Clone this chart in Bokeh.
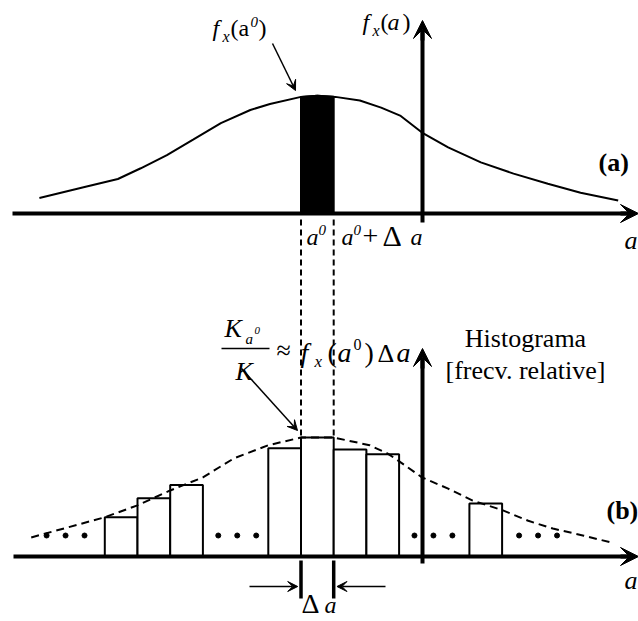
import numpy as np
from bokeh.plotting import figure
from bokeh.models import Range1d, Arrow, VeeHead, Label
from bokeh.embed import file_html
from bokeh.resources import INLINE

# ---------------------------------------------------------------------------
# Data (a measured in units of the bin width, origin at a0; densities scaled
# so that the histogram bar at a0 has height 1)
# ---------------------------------------------------------------------------
# probability density f_x(a), panel (a)
pdf_a = [-8.0, -6.65, -5.6, -4.9, -4.1, -3.3, -2.45, -1.55, -0.95, 0.0, 0.5,
         1.05, 1.8, 2.45, 3.05, 3.7, 4.5, 5.5, 6.5, 7.55, 8.55, 9.7]
pdf_f = [0.13, 0.22, 0.29, 0.38, 0.49, 0.62, 0.76, 0.87, 0.92, 0.98, 0.99,
         0.98, 0.95, 0.89, 0.82, 0.68, 0.555, 0.43, 0.335, 0.25, 0.175, 0.11]

# dashed envelope drawn over the histogram, panel (b)
env_a = [-8.25, -6.0, -5.0, -4.0, -3.0, -2.05, -1.0, 0.0, 1.0, 2.1, 2.65,
         2.95, 3.7, 4.5, 5.25, 6.15, 6.95, 7.7, 8.65, 9.45]
env_f = [0.16, 0.33, 0.43, 0.555, 0.665, 0.825, 0.935, 1.0, 1.0, 0.935, 0.865,
         0.81, 0.665, 0.57, 0.47, 0.39, 0.30, 0.235, 0.175, 0.12]

# histogram bins (left edge) and relative frequencies
bin_left = [-6.0, -5.0, -4.0, -1.0, 0.0, 1.0, 2.0, 5.15]
rel_freq = [0.33, 0.49, 0.60, 0.91, 1.0, 0.90, 0.86, 0.445]

bin_width = 1.0          # Delta a
a0 = 0.0                 # the highlighted bin starts at a0

# ---------------------------------------------------------------------------
# Layout
# ---------------------------------------------------------------------------
W, H = 638, 621
PX_A0 = 300.5            # canvas column of a0
PX_PER_A = 32.7          # canvas pixels per bin width
BASE_B = 556             # canvas row of the histogram baseline
PX_PER_F = 119           # canvas pixels per unit height
SERIF = "Liberation Serif"


def ax(px):
    return (px - PX_A0) / PX_PER_A


def ay(py):
    return (BASE_B - py) / PX_PER_F


LIFT_A = ay(213)         # baseline of panel (a)
V_AXIS = ax(422)         # position of the vertical axes
ELLIPSIS = [-7.2, -1.95, 4.05, 7.25]
DOT_GAP = 0.58

p = figure(width=W, height=H, x_range=Range1d(ax(0), ax(W)),
           y_range=Range1d(ay(H), ay(0)), output_backend="svg",
           toolbar_location=None, min_border=0,
           x_axis_type=None, y_axis_type=None)
p.outline_line_color = None
p.background_fill_color = "white"
p.border_fill_color = "white"


def arrow(x0, y0, x1, y1, lw, head):
    p.add_layout(Arrow(end=VeeHead(size=head, fill_color="black",
                                   line_color="black", line_width=1),
                       x_start=x0, y_start=y0, x_end=x1, y_end=y1,
                       line_width=lw, line_color="black"))


def txt(px, base, s, size, style="normal", align="left"):
    """Place a text run whose baseline sits on canvas row `base`."""
    mid = base - 0.34 * size
    p.add_layout(Label(x=ax(px), y=ay(mid), text=s, text_font=SERIF,
                       text_font_size=f"{size}px", text_font_style=style,
                       text_align=align, text_baseline="middle",
                       text_color="black"))


# ---------------------------- panel (a) ------------------------------------
pdf_y = [LIFT_A + f for f in pdf_f]
# shaded strip [a0, a0 + da] under the density
xs_in = [a for a in pdf_a if a0 < a < a0 + bin_width]
strip_x = [a0] + xs_in + [a0 + bin_width]
strip_top = list(np.interp(strip_x, pdf_a, pdf_f))
p.patch(strip_x + strip_x[::-1],
        [LIFT_A + f for f in strip_top] + [LIFT_A] * len(strip_x),
        fill_color="black", line_color="black", line_width=2)
p.line(pdf_a, pdf_y, line_color="black", line_width=2)

p.segment(ax(12), LIFT_A, ax(630), LIFT_A, line_color="black", line_width=4)
arrow(ax(620), LIFT_A, ax(638), LIFT_A, 4, 18)
p.segment(V_AXIS, ay(222), V_AXIS, ay(30), line_color="black", line_width=4)
arrow(V_AXIS, ay(40), V_AXIS, ay(20), 4, 18)

# callout to f_x(a0)
arrow(ax(272), ay(43), ax(295), ay(90), 1.5, 10)

# dashed guides from a0 and a0 + da down to the histogram
for gx in (a0, a0 + bin_width):
    p.segment(gx, ay(219), gx, rel_freq[bin_left.index(a0)],
              line_color="black", line_width=2, line_dash="6 4")

# ---------------------------- panel (b) ------------------------------------
p.quad(left=bin_left, right=[b + bin_width for b in bin_left],
       bottom=0, top=rel_freq, fill_color="white",
       line_color="black", line_width=2)
p.line(env_a, env_f, line_color="black", line_width=2, line_dash="8 5")

for c in ELLIPSIS:
    p.scatter([c - DOT_GAP, c, c + DOT_GAP], [ay(535)] * 3, size=5,
              marker="circle", fill_color="black", line_color="black")

p.segment(ax(13), 0, ax(630), 0, line_color="black", line_width=4)
arrow(ax(620), 0, ax(638), 0, 4, 18)
p.segment(V_AXIS, ay(563), V_AXIS, ay(358), line_color="black", line_width=4)
arrow(V_AXIS, ay(368), V_AXIS, ay(348), 4, 18)

# bin width marker
for gx in (a0, a0 + bin_width):
    p.segment(gx, ay(560), gx, ay(598), line_color="black", line_width=3.5)
arrow(ax(249), ay(586), a0 - 0.1, ay(586), 1.5, 10)
arrow(ax(385), ay(586), a0 + bin_width + 0.1, ay(586), 1.5, 10)

# callout to K_a0 / K
arrow(ax(241), ay(368), ax(297), ay(430), 1.5, 10)
p.segment(ax(221), ay(348), ax(269), ay(348), line_color="black", line_width=1.5)

# ------------------------------ texts --------------------------------------
# f_x(a^0)
txt(212, 36, "f", 24, "italic")
txt(222, 41, "x", 16, "italic")
txt(230, 36, "(a", 24)
txt(250, 27, "0", 15, "italic")
txt(258, 36, ")", 24)
# f_x(a)
txt(362, 30, "f", 24, "italic")
txt(372, 35, "x", 16, "italic")
txt(380, 30, "(", 24)
txt(387, 30, "a", 24, "italic")
txt(402, 30, ")", 24)
# a^0 and a^0 + Delta a
txt(306, 245, "a", 24, "italic")
txt(318, 235, "0", 15, "italic")
txt(341, 245, "a", 24, "italic")
txt(353, 235, "0", 15, "italic")
txt(362, 245, "+", 28)
txt(382, 245, "\u0394", 30)
txt(410, 245, "a", 24, "italic")
# axis names and panel tags
txt(624, 249, "a", 26, "italic")
txt(624, 589, "a", 26, "italic")
txt(598, 171, "(a)", 26, "bold")
txt(606, 519, "(b)", 26, "bold")
# K_{a^0} / K  ~  f_x(a^0) Delta a
txt(224, 337, "K", 26, "italic")
txt(245, 344, "a", 15, "italic")
txt(254, 334, "0", 11, "italic")
txt(235, 380, "K", 26, "italic")
txt(276, 359, "\u2248", 26)
txt(300, 362, "f", 28, "italic")
txt(314, 367, "x", 17, "italic")
txt(327, 362, "(", 28)
txt(337, 362, "a", 28, "italic")
txt(353, 349, "0", 16)
txt(364, 362, ")", 28)
txt(377, 362, "\u0394", 26)
txt(396, 362, "a", 28, "italic")
# histogram caption
txt(525, 347, "Histograma", 26, align="center")
txt(525, 379, "[frecv. relative]", 26, align="center")
# Delta a under the bin marker
txt(301, 613, "\u0394", 28)
txt(324, 613, "a", 24, "italic")

open("out.html", "w").write(file_html(p, INLINE))
